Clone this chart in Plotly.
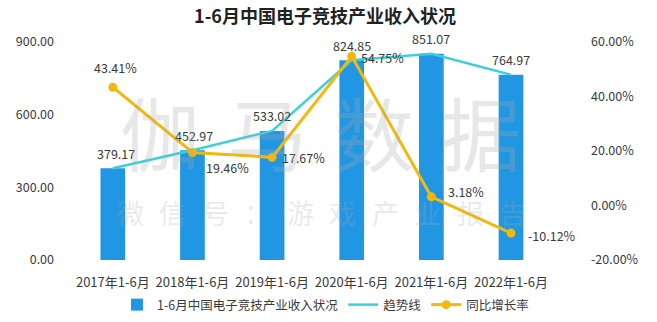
import plotly.graph_objects as go

# Data
categories = ["2017年1-6月", "2018年1-6月", "2019年1-6月", "2020年1-6月", "2021年1-6月", "2022年1-6月"]
revenue = [379.17, 452.97, 533.02, 824.85, 851.07, 764.97]
growth = [43.41, 19.46, 17.67, 54.75, 3.18, -10.12]
left_ticks = [0, 300, 600, 900]
right_ticks = [-20, 0, 20, 40, 60]

FONT = "Noto Sans CJK SC"
TEXT = "#3a3a3a"
BAR = "#2196E3"
TREND = "#3CCFDC"
GOLD = "#F2B80C"

W, H = 657, 322
ML, MR, MT, MB = 73, 79, 42, 62
PW, PH = W - ML - MR, H - MT - MB


def px_to_paper(px, py):
    return (px - ML) / PW, (H - MB - py) / PH


fig = go.Figure()

fig.add_trace(go.Bar(
    x=categories, y=revenue, name="1-6月中国电子竞技产业收入状况",
    marker=dict(color=BAR, line=dict(width=0)), width=0.31,
))
fig.add_trace(go.Scatter(
    x=categories, y=revenue, name="趋势线", mode="lines",
    line=dict(color=TREND, width=2.5),
))
fig.add_trace(go.Scatter(
    x=categories, y=growth, name="同比增长率", mode="lines+markers",
    line=dict(color=GOLD, width=3), marker=dict(color=GOLD, size=9),
    yaxis="y2",
))

annotations = []
# revenue labels above the bars
bar_shift = [(3, 15), (2, 15), (0, 15), (0, 15), (0, 15), (0, 15)]
for c, v, (dx, dy) in zip(categories, revenue, bar_shift):
    annotations.append(dict(x=c, y=v, xref="x", yref="y", text=f"{v:.2f}",
                            showarrow=False, xshift=dx, yshift=dy,
                            font=dict(size=12.5, color=TEXT, family=FONT)))
# growth-rate labels next to the points
rate_shift = [(3, 20), (35, -15), (31, 0), (31, -1), (35, 5), (41, -2)]
for c, v, (dx, dy) in zip(categories, growth, rate_shift):
    annotations.append(dict(x=c, y=v, xref="x", yref="y2", text=f"{v:.2f}%",
                            showarrow=False, xshift=dx, yshift=dy,
                            font=dict(size=12.5, color=TEXT, family=FONT)))

# watermark
mark_big = "伽马数据"
for i, ch in enumerate(mark_big):
    wx, wy = px_to_paper(160 + i * 107, 130)
    annotations.append(dict(x=wx, y=wy, xref="paper", yref="paper",
                            xanchor="center", yanchor="middle", text=ch, showarrow=False,
                            font=dict(size=80, color="rgba(170,170,170,0.28)", family=FONT)))
mark_small = "微信号：游戏产业报告"
for i, ch in enumerate(mark_small):
    wx, wy = px_to_paper(130 + i * 42.5, 212)
    annotations.append(dict(x=wx, y=wy, xref="paper", yref="paper",
                            xanchor="center", yanchor="middle", text=ch, showarrow=False,
                            font=dict(size=27, color="rgba(170,170,170,0.25)", family=FONT)))

fig.update_layout(
    width=W, height=H,
    margin=dict(l=ML, r=MR, t=MT, b=MB, autoexpand=False),
    paper_bgcolor="white", plot_bgcolor="white",
    font=dict(family=FONT, size=12, color=TEXT),
    title=dict(text="<b>1-6月中国电子竞技产业收入状况</b>", x=325 / W, xanchor="center",
               y=1 - 17 / H, yanchor="middle", font=dict(size=18, color="#222222", family=FONT)),
    xaxis=dict(showgrid=False, showline=False, zeroline=False, ticks="", automargin=False,
               tickfont=dict(size=13, color=TEXT), ticklabelstandoff=13),
    yaxis=dict(range=[0, 900], tickvals=left_ticks, tickformat=".2f", showgrid=False,
               zeroline=False, showline=False, tickfont=dict(size=12.5, color=TEXT),
               ticklabelstandoff=18, automargin=False),
    yaxis2=dict(range=[-20, 60], tickvals=right_ticks, ticktext=[f"{t:.2f}%" for t in right_ticks],
                overlaying="y", side="right", showgrid=False, zeroline=False, showline=False,
                tickfont=dict(size=12.5, color=TEXT), ticklabelstandoff=12, automargin=False),
    legend=dict(orientation="h", x=0.5, xanchor="center", y=1 - 305 / H, yanchor="middle",
                yref="container", font=dict(size=12.5, color=TEXT), itemwidth=30,
                traceorder="normal"),
    annotations=annotations,
)

fig.write_html("out.html")
